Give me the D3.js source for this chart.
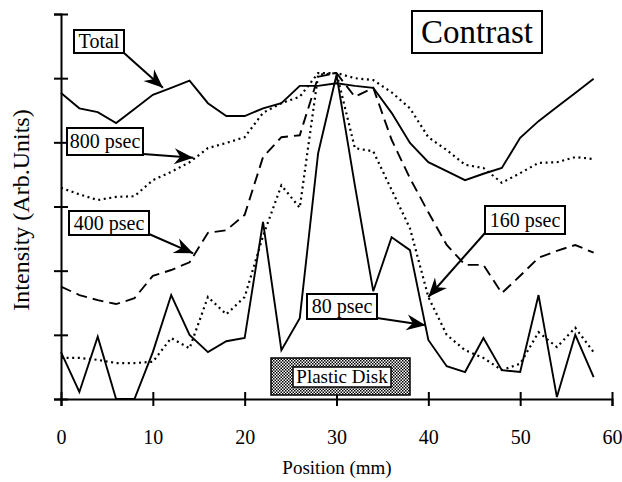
<!DOCTYPE html>
<html>
<head>
<meta charset="utf-8">
<script src="https://cdn.jsdelivr.net/npm/d3@7"></script>
<style>
    body { margin: 0; background: #fff; }
    svg text { font-family: "Liberation Serif", "Times New Roman", serif; fill: #000; }
</style>
</head>
<body>
<div class="contrast"></div>
<script>
////////////////////////////////// data

// position along the scan (mm), one sample every 2 mm
var positions = [0, 2, 4, 6, 8, 10, 12, 14, 16, 18, 20, 22, 24, 26, 28,
                 30, 32, 34, 36, 38, 40, 42, 44, 46, 48, 50, 52, 54, 56, 58];

// intensity in arb. units (one axis tick = 1 unit)
var total = [4.77, 4.53, 4.47, 4.30, 4.52, 4.74, 4.85, 4.96, 4.61, 4.41, 4.41, 4.53, 4.61, 4.88, 4.88,
             4.92, 4.88, 4.85, 4.46, 3.99, 3.69, 3.55, 3.41, 3.51, 3.60, 4.07, 4.33, 4.55, 4.77, 4.99];
var psec800 = [3.29, 3.19, 3.10, 3.15, 3.16, 3.41, 3.54, 3.69, 3.91, 3.99, 4.08, 4.46, 4.61, 4.71, 5.08,
               5.08, 5.00, 4.97, 4.78, 4.53, 4.08, 3.88, 3.65, 3.60, 3.37, 3.52, 3.68, 3.69, 3.77, 3.74];
var psec400 = [1.75, 1.62, 1.54, 1.48, 1.57, 1.92, 2.01, 2.13, 2.59, 2.63, 2.87, 3.77, 4.08, 4.11, 5.02,
               5.08, 4.71, 4.85, 4.04, 3.44, 2.91, 2.40, 2.09, 2.09, 1.65, 1.92, 2.20, 2.31, 2.40, 2.28];
var psec160 = [0.64, 0.64, 0.61, 0.56, 0.56, 0.58, 0.95, 0.79, 1.59, 1.32, 1.59, 2.54, 3.33, 2.98, 5.05,
               5.08, 3.91, 3.86, 3.26, 2.66, 1.59, 1.00, 0.76, 0.64, 0.45, 0.55, 1.04, 0.81, 1.11, 0.73];
var psec80 = [0.73, 0.11, 0.97, 0, 0, 0.73, 1.62, 1.00, 0.73, 0.90, 0.95, 2.76, 0.76, 1.26, 3.83,
              5.05, 3.33, 1.68, 2.52, 2.32, 0.92, 0.51, 0.42, 0.95, 0.45, 0.42, 1.62, 0.03, 1.00, 0.34];

var xTicks = [0, 10, 20, 30, 40, 50, 60];
var yTicks = [0, 1, 2, 3, 4, 5, 6];

var seriesNames = ["Total", "800 psec", "400 psec", "160 psec", "80 psec"];
var seriesValues = [total, psec800, psec400, psec160, psec80];

// where each label's arrow lands (mm, intensity)
var arrowTargets = [[11.1, 4.85], [14.4, 3.76], [14.4, 2.27], [40.0, 1.59], [39.7, 1.15]];

var contrastChart = (function() {

    var exports = {};

////////////////////////////////// layout

    var width = 622, height = 482;
    var plotLeft = 61, plotRight = 612, plotTop = 14, plotBottom = 399;

    // line style for each series, same order as seriesNames
    var dashes = [null, "2,3.6", "11,6", "2,3.6", null];

    // label boxes: x, y, w, h (pixels), font size, where the arrow leaves the box
    var boxes = [
        {x: 74, y: 30, w: 50, h: 23, size: 20, from: [124, 53]},
        {x: 67, y: 128, w: 76, h: 27, size: 20, from: [143, 154]},
        {x: 69, y: 211, w: 80, h: 24, size: 20, from: [149, 234]},
        {x: 485, y: 206, w: 80, h: 28, size: 20, from: [485, 233]},
        {x: 307, y: 294, w: 70, h: 25, size: 20, from: [377, 318]}
    ];

    function setup(div) {

        var svg = d3.select(div).append("svg")
            .attr("width", width)
            .attr("height", height);

        var x = d3.scaleLinear().domain([0, 60]).range([plotLeft, plotRight]);
        var y = d3.scaleLinear().domain([0, 6]).range([plotBottom, plotTop]);

        var defs = svg.append("defs");

        // barbed arrow head
        defs.append("marker")
            .attr("id", "head")
            .attr("viewBox", "-20 -9 22 18")
            .attr("refX", 0).attr("refY", 0)
            .attr("markerWidth", 22).attr("markerHeight", 18)
            .attr("markerUnits", "userSpaceOnUse")
            .attr("orient", "auto")
            .append("path")
            .attr("d", "M0,0 L-19,-8 L-13,0 L-19,8 Z")
            .attr("fill", "#000");

        // checker fill for the disk marker
        var pat = defs.append("pattern")
            .attr("id", "checker")
            .attr("width", 3).attr("height", 3)
            .attr("patternUnits", "userSpaceOnUse");
        pat.append("rect").attr("width", 3).attr("height", 3).attr("fill", "#fff");
        pat.append("rect").attr("width", 1.5).attr("height", 1.5).attr("fill", "#000");
        pat.append("rect").attr("x", 1.5).attr("y", 1.5).attr("width", 1.5).attr("height", 1.5).attr("fill", "#000");

        // axes, ticks cross the axis line
        var xAxis = svg.append("g")
            .attr("transform", "translate(0," + plotBottom + ")")
            .call(d3.axisBottom(x).tickValues(xTicks).tickSizeOuter(0).tickSize(7).tickPadding(24));
        xAxis.selectAll(".tick line").attr("y1", -7).attr("y2", 7).attr("stroke-width", 2);
        xAxis.selectAll(".tick text")
            .style("font-family", '"Liberation Serif", serif')
            .style("font-size", "20px");
        xAxis.select(".domain").attr("stroke-width", 2);

        var yAxis = svg.append("g")
            .attr("transform", "translate(" + plotLeft + ",0)")
            .call(d3.axisLeft(y).tickValues(yTicks).tickSizeOuter(0).tickSize(7).tickFormat(""));
        yAxis.selectAll(".tick line").attr("x1", -7).attr("x2", 7).attr("stroke-width", 2);
        yAxis.select(".domain").attr("stroke-width", 2);

        // disk marker sits on the axis
        svg.append("rect")
            .attr("x", 271).attr("y", 358).attr("width", 139).attr("height", 37)
            .attr("fill", "url(#checker)").attr("stroke", "#000").attr("stroke-width", 1.5);
        svg.append("rect")
            .attr("x", 293).attr("y", 367).attr("width", 98).attr("height", 20)
            .attr("fill", "#fff").attr("stroke", "#000").attr("stroke-width", 1.5);
        svg.append("text")
            .attr("x", 342).attr("y", 383)
            .attr("text-anchor", "middle")
            .style("font-size", "19px")
            .text("Plastic Disk");

        // the five profiles
        var line = d3.line()
            .x(function(d, i) { return x(positions[i]); })
            .y(function(d) { return y(d); });

        svg.selectAll(".profile").data(seriesValues).enter().append("path")
            .attr("class", "profile")
            .attr("d", line)
            .attr("fill", "none")
            .attr("stroke", "#000")
            .attr("stroke-width", function(d, i) { return dashes[i] && dashes[i][0] === "2" ? 2.2 : 1.9; })
            .attr("stroke-dasharray", function(d, i) { return dashes[i]; })
            .attr("stroke-linejoin", "miter");

        // label boxes with arrows
        boxes.forEach(function(b, i) {
            var t = arrowTargets[i];
            svg.append("line")
                .attr("x1", b.from[0]).attr("y1", b.from[1])
                .attr("x2", x(t[0])).attr("y2", y(t[1]))
                .attr("stroke", "#000").attr("stroke-width", 2)
                .attr("marker-end", "url(#head)");
            svg.append("rect")
                .attr("x", b.x).attr("y", b.y).attr("width", b.w).attr("height", b.h)
                .attr("fill", "#fff").attr("stroke", "#000").attr("stroke-width", 2);
            svg.append("text")
                .attr("x", b.x + b.w / 2).attr("y", b.y + b.h / 2 + b.size * 0.34)
                .attr("text-anchor", "middle")
                .style("font-size", b.size + "px")
                .text(seriesNames[i]);
        });

        // title box
        svg.append("rect")
            .attr("x", 412).attr("y", 11).attr("width", 130).attr("height", 42)
            .attr("fill", "#fff").attr("stroke", "#000").attr("stroke-width", 2);
        svg.append("text")
            .attr("x", 477).attr("y", 43)
            .attr("text-anchor", "middle")
            .style("font-size", "33px")
            .text("Contrast");

        // axis titles
        svg.append("text")
            .attr("transform", "translate(29,210) rotate(-90)")
            .attr("text-anchor", "middle")
            .style("font-size", "24px")
            .text("Intensity (Arb.Units)");
        svg.append("text")
            .attr("x", 337).attr("y", 474)
            .attr("text-anchor", "middle")
            .style("font-size", "19px")
            .text("Position (mm)");
    }

    exports.setup = setup;
    return exports;
}());

contrastChart.setup(".contrast");
</script>
</body>
</html>
